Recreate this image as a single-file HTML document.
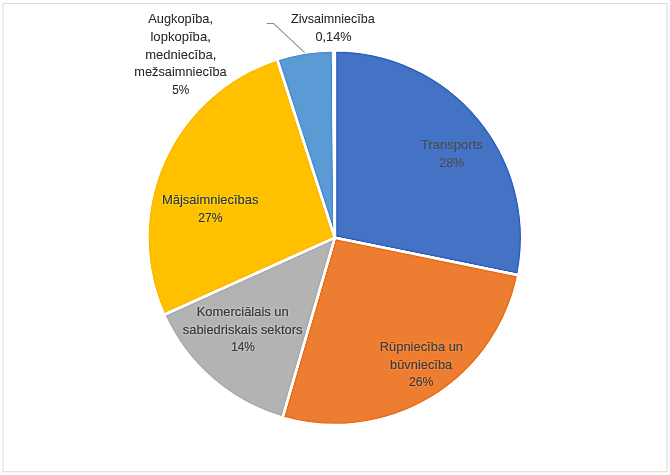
<!DOCTYPE html>
<html lang="lv">
<head>
<meta charset="utf-8">
<title>Diagramma</title>
<style>
html,body{margin:0;padding:0;background:#fff;}
body{width:670px;height:475px;overflow:hidden;}
svg{display:block;}
.lbl text{font-family:"Liberation Sans",sans-serif;font-size:13.6px;stroke-width:0.15px;}
</style>
</head>
<body>
<svg width="670" height="475" viewBox="0 0 670 475">
<defs>
<filter id="usm" filterUnits="userSpaceOnUse" x="0" y="0" width="670" height="475" color-interpolation-filters="sRGB">
<feGaussianBlur in="SourceGraphic" stdDeviation="0.8" result="b"/>
<feComposite in="SourceGraphic" in2="b" operator="arithmetic" k1="0" k2="1.55" k3="-0.55" k4="0"/>
</filter>
</defs>
<rect x="0" y="0" width="670" height="475" fill="#ffffff"/>
<rect x="3" y="3.5" width="664" height="468.2" fill="#ffffff" stroke="#D9D9D9" stroke-width="1"/>
<g filter="url(#usm)">
<rect x="8" y="8" width="654" height="459" fill="#ffffff"/>
<g stroke="#ffffff" stroke-width="2.6" stroke-linejoin="round">
<path d="M334.8 237.65L334.80 50.20A187.45 187.45 0 0 1 518.45 275.18Z" fill="#4472C4"/>
<path d="M334.8 237.65L518.45 275.18A187.45 187.45 0 0 1 282.50 417.66Z" fill="#ED7D31"/>
<path d="M334.8 237.65L282.50 417.66A187.45 187.45 0 0 1 163.96 314.79Z" fill="#B3B3B3"/>
<path d="M334.8 237.65L163.96 314.79A187.45 187.45 0 0 1 277.19 59.27Z" fill="#FFC000"/>
<path d="M334.8 237.65L277.19 59.27A187.45 187.45 0 0 1 333.16 50.21Z" fill="#5B9BD5"/>
<path d="M334.8 237.65L333.16 50.21A187.45 187.45 0 0 1 334.80 50.20Z" fill="#70AD47"/>
</g>
<polyline points="266.7,23.5 273.6,23.5 304.7,52.7" fill="none" stroke="#A8A8A8" stroke-width="1.1"/>
<g class="lbl">
<text x="148.25" y="22.80" textLength="64.77" lengthAdjust="spacingAndGlyphs" fill="#585858" stroke="#585858">Augkopība,</text>
<text x="150.47" y="40.90" textLength="60.32" lengthAdjust="spacingAndGlyphs" fill="#585858" stroke="#585858">lopkopība,</text>
<text x="145.23" y="58.70" textLength="71.05" lengthAdjust="spacingAndGlyphs" fill="#585858" stroke="#585858">medniecība,</text>
<text x="134.24" y="76.10" textLength="92.51" lengthAdjust="spacingAndGlyphs" fill="#585858" stroke="#585858">mežsaimniecība</text>
<text x="172.22" y="93.80" textLength="17.05" lengthAdjust="spacingAndGlyphs" fill="#585858" stroke="#585858">5%</text>
<text x="291.00" y="22.80" textLength="83.75" lengthAdjust="spacingAndGlyphs" fill="#585858" stroke="#585858">Zivsaimniecība</text>
<text x="315.49" y="40.70" textLength="36.02" lengthAdjust="spacingAndGlyphs" fill="#585858" stroke="#585858">0,14%</text>
<text x="421.00" y="149.10" textLength="61.76" lengthAdjust="spacingAndGlyphs" fill="#4E5259" stroke="#4E5259">Transports</text>
<text x="439.48" y="166.70" textLength="24.53" lengthAdjust="spacingAndGlyphs" fill="#4E5259" stroke="#4E5259">28%</text>
<text x="161.99" y="204.10" textLength="96.52" lengthAdjust="spacingAndGlyphs" fill="#505050" stroke="#505050">Mājsaimniecības</text>
<text x="198.23" y="221.80" textLength="24.28" lengthAdjust="spacingAndGlyphs" fill="#505050" stroke="#505050">27%</text>
<text x="196.73" y="316.10" textLength="92.04" lengthAdjust="spacingAndGlyphs" fill="#505050" stroke="#505050">Komerciālais un</text>
<text x="182.75" y="333.50" textLength="119.76" lengthAdjust="spacingAndGlyphs" fill="#505050" stroke="#505050">sabiedriskais sektors</text>
<text x="231.20" y="350.90" textLength="23.58" lengthAdjust="spacingAndGlyphs" fill="#505050" stroke="#505050">14%</text>
<text x="379.73" y="350.50" textLength="83.30" lengthAdjust="spacingAndGlyphs" fill="#505050" stroke="#505050">Rūpniecība un</text>
<text x="389.99" y="368.50" textLength="62.26" lengthAdjust="spacingAndGlyphs" fill="#505050" stroke="#505050">būvniecība</text>
<text x="408.97" y="386.30" textLength="24.54" lengthAdjust="spacingAndGlyphs" fill="#505050" stroke="#505050">26%</text>
</g>
</g>
</svg>
</body>
</html>
